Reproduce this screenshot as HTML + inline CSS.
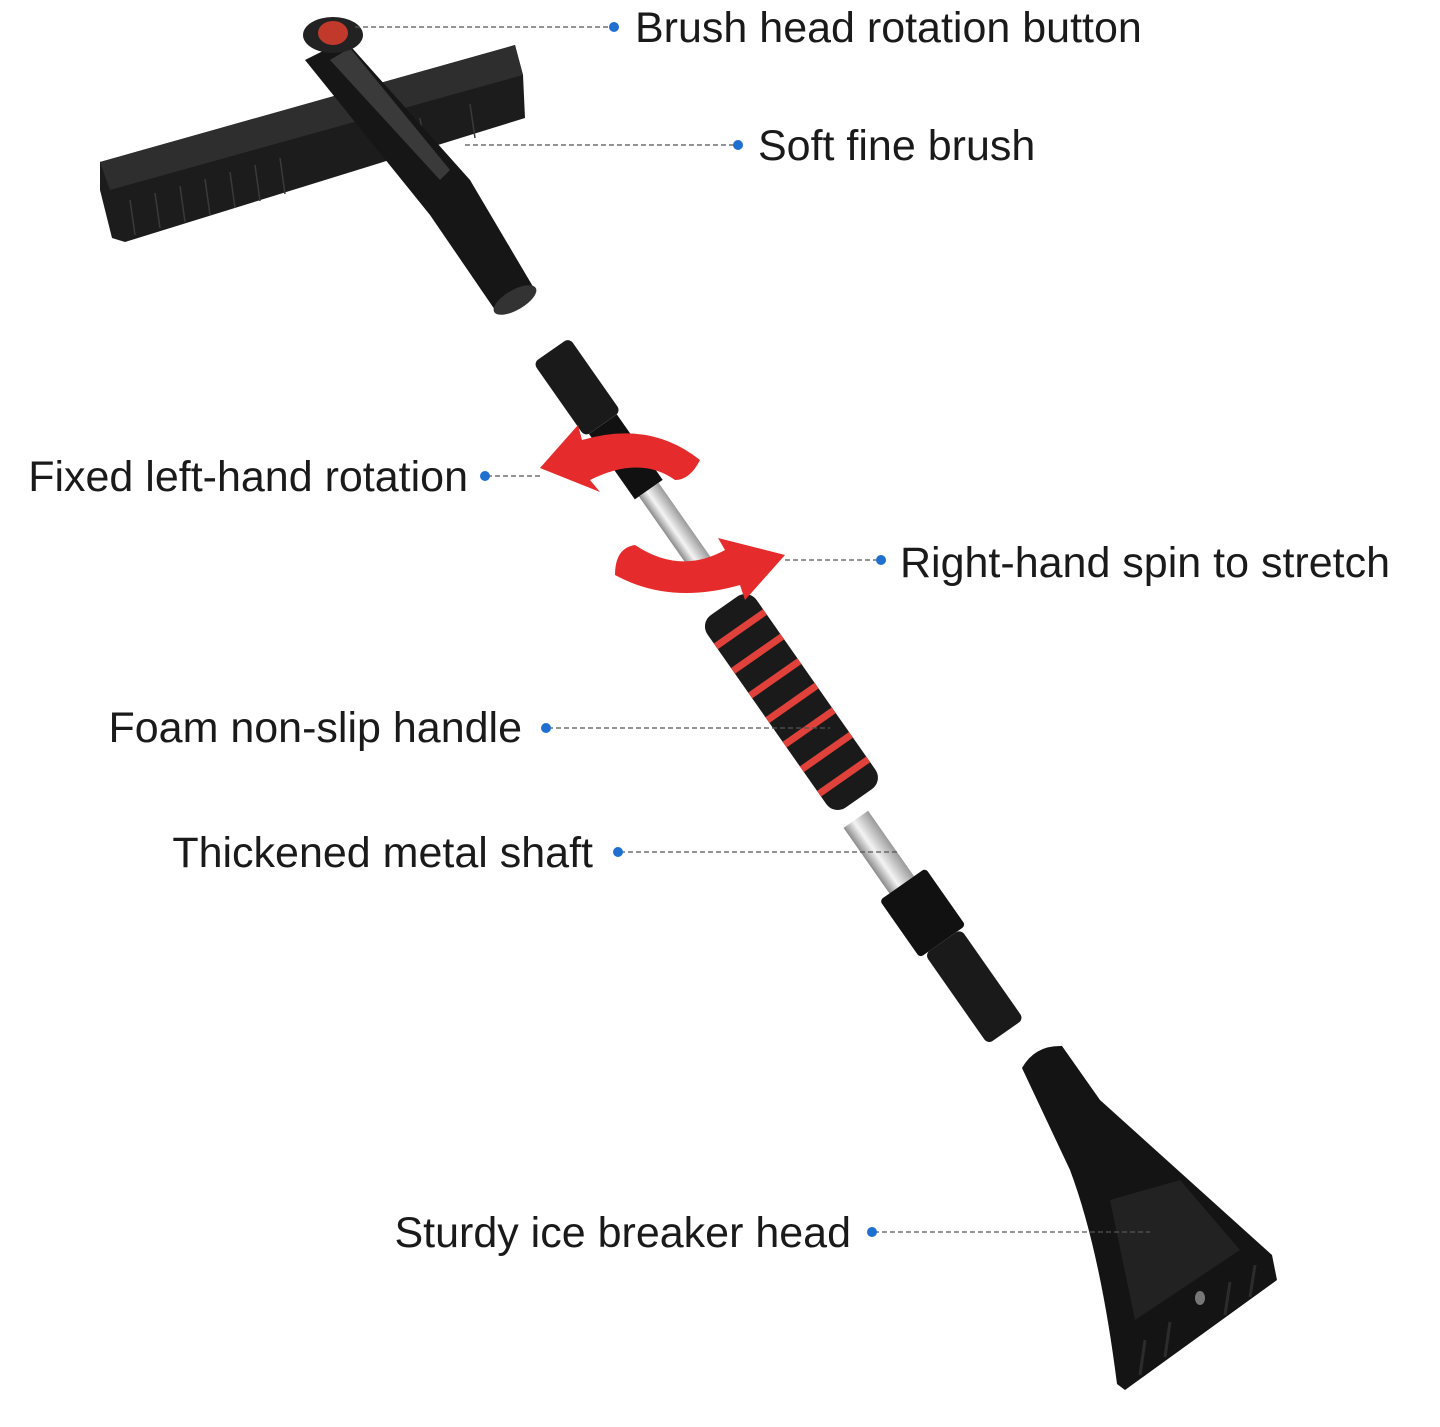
<!DOCTYPE html>
<html><head><meta charset="utf-8"><style>
html,body{margin:0;padding:0;background:#fff;}
svg{display:block;}
text{font-family:"Liberation Sans",sans-serif;font-size:43px;fill:#1a1a1a;}
</style></head><body>
<svg width="1440" height="1427" viewBox="0 0 1440 1427" xmlns="http://www.w3.org/2000/svg">
<defs>
<linearGradient id="metal" x1="0" y1="0" x2="1" y2="0">
<stop offset="0" stop-color="#8a8a8a"/><stop offset="0.4" stop-color="#f4f4f4"/><stop offset="1" stop-color="#9a9a9a"/>
</linearGradient>
</defs>
<!-- brush head -->
<polygon points="100,162 515,45 523,75 525,118 125,242 112,238 100,190" fill="#1c1c1c"/>
<polygon points="100,162 515,45 523,75 110,190" fill="#2e2e2e"/>
<g stroke="#3a3a3a" stroke-width="1.5">
<line x1="130" y1="200" x2="135" y2="235"/><line x1="180" y1="186" x2="185" y2="222"/><line x1="230" y1="172" x2="235" y2="208"/>
<line x1="280" y1="158" x2="285" y2="194"/><line x1="420" y1="118" x2="425" y2="152"/><line x1="470" y1="104" x2="475" y2="138"/>
<line x1="155" y1="193" x2="160" y2="228"/><line x1="205" y1="179" x2="210" y2="215"/><line x1="255" y1="165" x2="260" y2="201"/>
</g>
<!-- brush stem -->
<polygon points="305,60 345,40 470,180 535,290 495,310 430,215" fill="#161616"/>
<polygon points="330,60 350,48 450,170 440,180" fill="#3a3a3a"/>
<ellipse cx="515" cy="300" rx="24" ry="10" transform="rotate(-30 515 300)" fill="#333"/>
<ellipse cx="333" cy="35" rx="30" ry="18" fill="#222"/>
<ellipse cx="333" cy="33" rx="15" ry="12" fill="#c0392b"/>
<!-- upper black shaft -->
<g transform="rotate(-35 600 420)">
<rect x="578" y="335" width="44" height="90" rx="6" fill="#1a1a1a"/>
<rect x="583" y="425" width="34" height="80" fill="#111"/>
<rect x="588" y="505" width="24" height="100" fill="url(#metal)"/>
</g>
<!-- foam handle -->
<g transform="rotate(-35 790 700)">
<rect x="760" y="585" width="60" height="235" rx="14" fill="#1a1a1a"/>
<g fill="#e0413a">
<rect x="760" y="610" width="60" height="7"/><rect x="760" y="640" width="60" height="7"/><rect x="760" y="670" width="60" height="7"/>
<rect x="760" y="700" width="60" height="7"/><rect x="760" y="730" width="60" height="7"/><rect x="760" y="760" width="60" height="7"/><rect x="760" y="790" width="60" height="7"/>
</g>
</g>
<!-- lower shaft -->
<g transform="rotate(-35 930 920)">
<rect x="912" y="795" width="30" height="80" fill="url(#metal)"/>
<rect x="900" y="875" width="56" height="70" rx="4" fill="#111"/>
<rect x="906" y="945" width="44" height="110" rx="6" fill="#1a1a1a"/>
</g>
<!-- red arrows -->
<path d="M540,468 L578,425 L582,440 Q650,420 700,460 Q690,480 675,480 Q640,455 590,480 L600,492 Z" fill="#e52b2b"/>
<path d="M785,555 L745,600 L740,585 Q670,605 615,575 Q615,548 635,545 Q680,575 725,550 L718,538 Z" fill="#e52b2b"/>
<!-- ice scraper -->
<path d="M1022,1068 Q1035,1045 1062,1046 L1100,1100 L1272,1255 L1277,1280 L1125,1390 L1117,1384 Q1100,1250 1070,1170 Z" fill="#141414"/>
<polygon points="1110,1200 1180,1180 1240,1250 1135,1320" fill="#222"/>
<ellipse cx="1200" cy="1298" rx="5" ry="7" fill="#777"/>
<g stroke="#2c2c2c" stroke-width="3">
<line x1="1140" y1="1375" x2="1145" y2="1340"/><line x1="1165" y1="1357" x2="1170" y2="1322"/><line x1="1225" y1="1315" x2="1230" y2="1282"/><line x1="1250" y1="1297" x2="1255" y2="1265"/>
</g>
<!-- connectors -->
<g stroke="#555" stroke-width="1.3" stroke-dasharray="5,3" fill="none">
<line x1="355" y1="27" x2="612" y2="27"/>
<line x1="465" y1="145" x2="736" y2="145"/>
<line x1="487" y1="476" x2="540" y2="476"/>
<line x1="785" y1="560" x2="879" y2="560"/>
<line x1="548" y1="728" x2="830" y2="728"/>
<line x1="620" y1="852" x2="900" y2="852"/>
<line x1="874" y1="1232" x2="1150" y2="1232"/>
</g>
<g fill="#1f6fd1">
<circle cx="614" cy="27" r="5"/><circle cx="738" cy="145" r="5"/><circle cx="485" cy="476" r="5"/>
<circle cx="881" cy="560" r="5"/><circle cx="546" cy="728" r="5"/><circle cx="618" cy="852" r="5"/><circle cx="872" cy="1232" r="5"/>
</g>
<text x="635" y="42">Brush head rotation button</text>
<text x="758" y="160">Soft fine brush</text>
<text x="468" y="491" text-anchor="end">Fixed left-hand rotation</text>
<text x="900" y="577">Right-hand spin to stretch</text>
<text x="522" y="742" text-anchor="end">Foam non-slip handle</text>
<text x="593" y="867" text-anchor="end">Thickened metal shaft</text>
<text x="851" y="1247" text-anchor="end">Sturdy ice breaker head</text>
</svg>
</body></html>
